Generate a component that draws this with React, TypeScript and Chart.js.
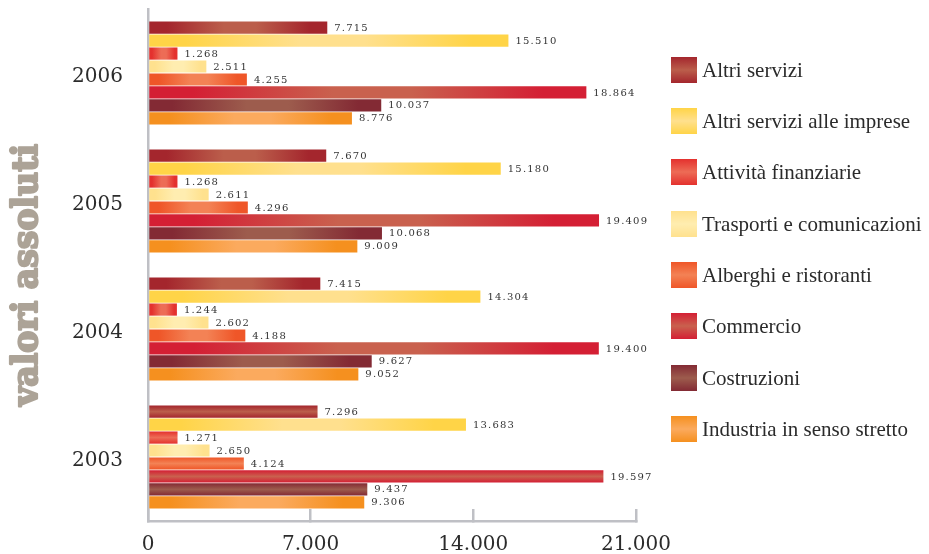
import React, { useEffect, useRef } from 'react';
import { Chart, registerables } from 'chart.js';

Chart.register(...registerables);

// Years, top to bottom
const YEARS = ['2006', '2005', '2004', '2003'];

const SERIES = [
  'Altri servizi',
  'Altri servizi alle imprese',
  'Attività finanziarie',
  'Trasporti e comunicazioni',
  'Alberghi e ristoranti',
  'Commercio',
  'Costruzioni',
  'Industria in senso stretto',
];

// Values per sector, in the same order as YEARS
const ALTRI_SERVIZI = [7715, 7670, 7415, 7296];
const ALTRI_SERVIZI_IMPRESE = [15510, 15180, 14304, 13683];
const ATTIVITA_FINANZIARIE = [1268, 1268, 1244, 1271];
const TRASPORTI_COMUNICAZIONI = [2511, 2611, 2602, 2650];
const ALBERGHI_RISTORANTI = [4255, 4296, 4188, 4124];
const COMMERCIO = [18864, 19409, 19400, 19597];
const COSTRUZIONI = [10037, 10068, 9627, 9437];
const INDUSTRIA = [8776, 9009, 9052, 9306];

const X_TICKS = [0, 7000, 14000, 21000];
const AXIS_TITLE = 'valori assoluti';

// Bar shading: edge colour and the lighter highlight colour
const EDGE = ['#a4262d', '#ffd447', '#e4312e', '#ffe18e', '#ef5628', '#d41f34', '#832a34', '#f5901f'];
const LIGHT = ['#bb5e4b', '#ffe08e', '#ed6c56', '#ffedb0', '#f38255', '#c9614e', '#9d5c4d', '#fbaa5e'];

// Bars of a year that are shaded top-to-bottom instead of along their length
const VERTICAL_SHADE: Record<number, number[]> = { 3: [0, 2, 4, 5, 6] };

const AXIS_GREY = '#bfc0c5';
const TEXT = '#2b2b2b';

const fmt = (v: number) => String(Math.round(v)).replace(/\B(?=(\d{3})+(?!\d))/g, '.');

const shadePlugin = {
  id: 'barShade',
  beforeDatasetsDraw(chart: any) {
    const ctx = chart.ctx as CanvasRenderingContext2D;
    chart.data.datasets.forEach((_ds: any, di: number) => {
      const meta = chart.getDatasetMeta(di);
      meta.data.forEach((el: any, j: number) => {
        const { x, y, base, height } = el.getProps(['x', 'y', 'base', 'height'], true);
        let g: CanvasGradient;
        if (VERTICAL_SHADE[j] && VERTICAL_SHADE[j].includes(di)) {
          g = ctx.createLinearGradient(0, y - height / 2, 0, y + height / 2);
          g.addColorStop(0, EDGE[di]);
          g.addColorStop(0.5, LIGHT[di]);
          g.addColorStop(1, EDGE[di]);
        } else {
          g = ctx.createLinearGradient(base, 0, Math.max(x, base + 1), 0);
          g.addColorStop(0, EDGE[di]);
          g.addColorStop(0.1, EDGE[di]);
          g.addColorStop(0.42, LIGHT[di]);
          g.addColorStop(0.6, LIGHT[di]);
          g.addColorStop(0.9, EDGE[di]);
          g.addColorStop(1, EDGE[di]);
        }
        el.options.backgroundColor = g;
      });
    });
  },
};

const valueLabelPlugin = {
  id: 'valueLabels',
  afterDatasetsDraw(chart: any) {
    const ctx = chart.ctx as CanvasRenderingContext2D;
    ctx.save();
    ctx.font = '10px "DejaVu Serif"';
    ctx.fillStyle = '#333333';
    ctx.textAlign = 'left';
    ctx.textBaseline = 'middle';
    (ctx as any).letterSpacing = '1.2px';
    chart.data.datasets.forEach((ds: any, di: number) => {
      const meta = chart.getDatasetMeta(di);
      meta.data.forEach((el: any, j: number) => {
        const { x, y } = el.getProps(['x', 'y'], true);
        ctx.fillText(fmt(ds.data[j]), x + 7, y + 0.5);
      });
    });
    ctx.restore();
  },
};

const axisTitlePlugin = {
  id: 'axisTitle',
  afterDraw(chart: any) {
    const ctx = chart.ctx as CanvasRenderingContext2D;
    ctx.save();
    ctx.translate(37, 275);
    ctx.rotate(-Math.PI / 2);
    ctx.font = 'bold 36px "DejaVu Serif"';
    const w = ctx.measureText(AXIS_TITLE).width;
    ctx.scale(262 / w, 1);
    ctx.fillStyle = '#aca397';
    ctx.strokeStyle = '#aca397';
    ctx.lineWidth = 2.2;
    ctx.lineJoin = 'round';
    ctx.textAlign = 'center';
    ctx.textBaseline = 'alphabetic';
    ctx.fillText(AXIS_TITLE, 0, 0);
    ctx.strokeText(AXIS_TITLE, 0, 0);
    ctx.restore();
  },
};

const LEGEND_TOP = 69.7;
const LEGEND_STEP = 51.3;

export default function App() {
  const canvasRef = useRef<HTMLCanvasElement | null>(null);

  useEffect(() => {
    document.body.style.margin = '0';
    const canvas = canvasRef.current;
    if (!canvas) return;
    const values = [
      ALTRI_SERVIZI,
      ALTRI_SERVIZI_IMPRESE,
      ATTIVITA_FINANZIARIE,
      TRASPORTI_COMUNICAZIONI,
      ALBERGHI_RISTORANTI,
      COMMERCIO,
      COSTRUZIONI,
      INDUSTRIA,
    ];
    const chart = new Chart(canvas, {
      type: 'bar',
      data: {
        labels: YEARS,
        datasets: SERIES.map((label, i) => ({
          label,
          data: values[i],
          backgroundColor: (c: any) => EDGE[c.datasetIndex],
          borderWidth: 0,
        })),
      },
      options: {
        indexAxis: 'y',
        animation: false,
        responsive: false,
        maintainAspectRatio: false,
        layout: { padding: { top: 9, right: 293, left: 0, bottom: 0 } },
        datasets: { bar: { barPercentage: 0.94, categoryPercentage: 0.81 } },
        plugins: { legend: { display: false }, tooltip: { enabled: false } },
        scales: {
          x: {
            min: 0,
            max: 21000,
            afterFit: (s: any) => {
              s.height = 33;
              s.paddingLeft = 0;
              s.paddingRight = 0;
            },
            afterBuildTicks: (s: any) => {
              s.ticks = X_TICKS.map((v) => ({ value: v }));
            },
            grid: {
              display: true,
              drawOnChartArea: false,
              drawTicks: true,
              tickLength: -12,
              color: AXIS_GREY,
              lineWidth: 2.5,
            },
            border: { display: true, color: AXIS_GREY, width: 2.5 },
            ticks: {
              padding: 24,
              color: TEXT,
              font: { family: '"DejaVu Serif"', size: 20 },
              callback: (v: any) => fmt(Number(v)),
            },
          },
          y: {
            afterFit: (s: any) => {
              s.width = 148;
              s.paddingTop = 0;
              s.paddingBottom = 0;
            },
            grid: { display: false, drawTicks: false },
            border: { display: true, color: AXIS_GREY, width: 2.5 },
            ticks: {
              padding: 25,
              labelOffset: 4,
              color: TEXT,
              font: { family: '"DejaVu Serif"', size: 20 },
            },
          },
        },
      } as any,
      plugins: [shadePlugin, valueLabelPlugin, axisTitlePlugin],
    });
    return () => chart.destroy();
  }, []);

  return (
    <div style={{ position: 'relative', width: 929, height: 554, background: '#fff' }}>
      <canvas ref={canvasRef} width={929} height={554} style={{ display: 'block' }} />
      {SERIES.map((name, i) => (
        <div
          key={name}
          style={{
            position: 'absolute',
            left: 671,
            top: LEGEND_TOP + i * LEGEND_STEP - 13,
            height: 26,
            display: 'flex',
            alignItems: 'center',
            whiteSpace: 'nowrap',
          }}
        >
          <span
            style={{
              display: 'inline-block',
              width: 26,
              height: 26,
              background: `linear-gradient(to bottom, ${EDGE[i]} 0%, ${LIGHT[i]} 50%, ${EDGE[i]} 100%)`,
            }}
          />
          <span
            style={{
              marginLeft: 5,
              fontFamily: '"Liberation Serif", serif',
              fontSize: 21,
              lineHeight: '26px',
              color: TEXT,
            }}
          >
            {name}
          </span>
        </div>
      ))}
    </div>
  );
}
